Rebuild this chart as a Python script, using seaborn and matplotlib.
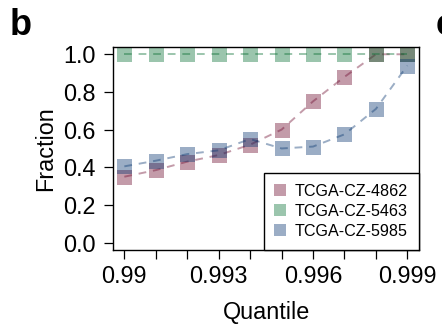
import matplotlib
matplotlib.use("Agg")
import matplotlib.pyplot as plt
from matplotlib.lines import Line2D
import seaborn as sns
import pandas as pd

quantiles = [0.990, 0.991, 0.992, 0.993, 0.994, 0.995, 0.996, 0.997, 0.998, 0.999]
s4862 = [0.35, 0.385, 0.43, 0.465, 0.52, 0.60, 0.75, 0.88, 1.0, 1.0]
s5463 = [1.0, 1.0, 1.0, 1.0, 1.0, 1.0, 1.0, 1.0, 1.0, 1.0]
s5985 = [0.405, 0.435, 0.47, 0.49, 0.55, 0.50, 0.51, 0.575, 0.71, 0.94]
samples = ["TCGA-CZ-4862", "TCGA-CZ-5463", "TCGA-CZ-5985"]
xtick_labels = ["0.99", "", "", "0.993", "", "", "0.996", "", "", "0.999"]
yticks = [0.0, 0.2, 0.4, 0.6, 0.8, 1.0]

colors = ["#6B052A", "#076E32", "#05346E"]
ALPHA = 0.4

rows = []
for name, vals in zip(samples, [s4862, s5463, s5985]):
    for q, v in zip(quantiles, vals):
        rows.append({"Quantile": q, "Fraction": v, "Sample": name})
df = pd.DataFrame(rows)

sns.set_style("ticks")
plt.rcParams["font.family"] = ["Liberation Sans", "DejaVu Sans"]
plt.rcParams["text.color"] = "black"
plt.rcParams["axes.labelcolor"] = "black"
plt.rcParams["xtick.color"] = "black"
plt.rcParams["ytick.color"] = "black"

fig = plt.figure(figsize=(4.42, 3.34), dpi=100)
ax = fig.add_axes([0.255, 0.2515, 0.6937, 0.6069])

sns.lineplot(data=df, x="Quantile", y="Fraction", hue="Sample",
             palette=dict(zip(samples, colors)), marker="s", markersize=10.8,
             markeredgewidth=0, linewidth=1.4, alpha=ALPHA, legend=False,
             ax=ax, sort=False)
for ln in ax.lines:
    ln.set_linestyle((0, (4, 3.5)))

ax.set_xlim(0.98963, 0.99938)
ax.set_ylim(-0.039, 1.037)
ax.set_xticks(quantiles)
ax.set_xticklabels(xtick_labels)
ax.set_yticks(yticks)
ax.set_yticklabels([f"{v:.1f}" for v in yticks])
ax.tick_params(axis="both", direction="out", length=6.5, width=0.9,
               labelsize=16.8, color="black", labelcolor="black")
ax.tick_params(axis="y", pad=6)
ax.tick_params(axis="x", pad=4.5)
for sp in ax.spines.values():
    sp.set_visible(True)
    sp.set_color("black")
    sp.set_linewidth(1.0)

ax.set_xlabel("Quantile", fontsize=16.8, labelpad=9, color="black")
ax.set_ylabel("Fraction", fontsize=16.8, labelpad=4, color="black")

handles = [Line2D([], [], marker="s", linestyle="none", markersize=8,
                  markerfacecolor=c, markeredgewidth=0, alpha=ALPHA)
           for c in colors]
leg = ax.legend(handles, samples, loc="lower right", bbox_to_anchor=(1, 0),
                borderaxespad=0, fontsize=11.6, frameon=True, fancybox=False,
                borderpad=0.7, labelspacing=0.3, handlelength=0.62,
                handletextpad=0.6, labelcolor="black")
leg.get_frame().set_edgecolor("black")
leg.get_frame().set_linewidth(1.0)
leg.get_frame().set_alpha(1)

fig.text(10 / 442, 1 - 35 / 334, "b", ha="left", va="baseline",
         fontsize=26, fontweight="bold", color="black")
fig.text(436 / 442, 1 - 35 / 334, "c", ha="left", va="baseline",
         fontsize=26, fontweight="bold", color="black")

fig.savefig("out.png", dpi=100)
